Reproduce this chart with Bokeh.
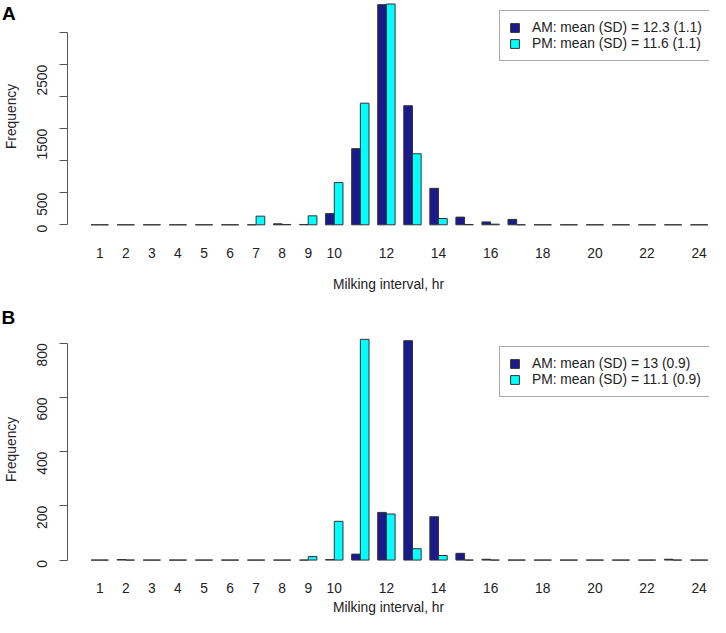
import math
from bokeh.plotting import figure
from bokeh.models import (ColumnDataSource, FixedTicker, Legend, LegendItem, Range1d,
                          Title, Div, GridBox)
from bokeh.embed import file_html
from bokeh.resources import INLINE

hours = list(range(1, 25))

am_a = [0, 0, 0, 0, 0, 0, 0, 15, 5, 175, 1190, 3440, 1860, 570, 120, 45, 85,
        0, 0, 0, 0, 0, 0, 0]
pm_a = [0, 0, 0, 0, 0, 0, 135, 5, 140, 660, 1900, 3450, 1110, 98, 5, 10, 0,
        0, 0, 0, 0, 0, 0, 0]

am_b = [0, 2, 0, 0, 0, 0, 0, 0, 0, 2, 22, 176, 810, 160, 25, 3, 0,
        0, 0, 0, 0, 0, 3, 0]
pm_b = [0, 0, 0, 0, 0, 0, 0, 0, 13, 143, 815, 170, 42, 17, 0, 0, 0,
        0, 0, 0, 0, 0, 0, 0]

label_a = ["AM: mean (SD) = 12.3 (1.1)", "PM: mean (SD) = 11.6 (1.1)"]
label_b = ["AM: mean (SD) = 13 (0.9)", "PM: mean (SD) = 11.1 (0.9)"]

x_ticks = [1, 2, 3, 4, 5, 6, 7, 8, 9, 10, 12, 14, 16, 18, 20, 22, 24]
y_ticks_a = [0, 500, 1000, 1500, 2000, 2500, 3000]
y_labels_a = {1000: "", 2000: "", 3000: ""}
y_ticks_b = [0, 200, 400, 600, 800]

AM_COLOR = "#1a1a8a"
PM_COLOR = "#00ffff"
EDGE = "#333333"
AXIS = "#555555"
FONT = "Liberation Sans"
FS = "13.8px"
BW = 1.0 / 3.0
LEFT = 66
PX_PER_HOUR = 26.1
X_START = 1 - (98.3 - LEFT) / PX_PER_HOUR
X_END = X_START + (709 - LEFT) / PX_PER_HOUR


def make_panel(am, pm, labels, yticks, ylabels, y_range, height,
               top_border, bottom_border, lab_standoff, title_standoff,
               legend_top, legend_w):
    src = ColumnDataSource(dict(
        x_am=[h - BW / 2 for h in hours], x_pm=[h + BW / 2 for h in hours],
        am=am, pm=pm))
    p = figure(width=710, height=height, output_backend="svg",
               toolbar_location=None,
               x_range=Range1d(X_START, X_END), y_range=Range1d(*y_range),
               min_border_left=LEFT, min_border_right=1,
               min_border_top=top_border, min_border_bottom=bottom_border)
    p.outline_line_color = None
    p.xgrid.visible = False
    p.ygrid.visible = False
    p.background_fill_color = "white"
    p.border_fill_color = "white"

    r_am = p.vbar(x="x_am", top="am", bottom=0, width=BW, source=src,
                  fill_color=AM_COLOR, line_color=EDGE, line_width=1)
    r_pm = p.vbar(x="x_pm", top="pm", bottom=0, width=BW, source=src,
                  fill_color=PM_COLOR, line_color=EDGE, line_width=1)

    xa = p.xaxis[0]
    xa.ticker = FixedTicker(ticks=x_ticks)
    xa.axis_line_color = None
    xa.major_tick_line_color = None
    xa.minor_tick_line_color = None
    xa.major_tick_out = 0
    xa.major_tick_in = 0
    xa.major_label_standoff = lab_standoff
    xa.major_label_text_font = FONT
    xa.major_label_text_font_size = FS
    xa.major_label_text_color = "#222222"
    xa.axis_label = "Milking interval, hr"
    xa.axis_label_text_font = FONT
    xa.axis_label_text_font_size = FS
    xa.axis_label_text_font_style = "normal"
    xa.axis_label_text_color = "#222222"
    xa.axis_label_standoff = title_standoff

    ya = p.yaxis[0]
    ya.ticker = FixedTicker(ticks=yticks)
    ya.bounds = (yticks[0], yticks[-1])
    ya.major_label_overrides = ylabels
    ya.axis_line_color = AXIS
    ya.major_tick_line_color = AXIS
    ya.minor_tick_line_color = None
    ya.major_tick_out = 8
    ya.major_tick_in = 0
    ya.major_label_orientation = math.pi / 2
    ya.major_label_standoff = 17
    ya.major_label_text_font = FONT
    ya.major_label_text_font_size = FS
    ya.major_label_text_color = "#222222"
    ya.axis_label = "Frequency"
    ya.axis_label_text_font = FONT
    ya.axis_label_text_font_size = FS
    ya.axis_label_text_font_style = "normal"
    ya.axis_label_text_color = "#222222"
    ya.axis_label_standoff = 11

    frame_h = height - top_border - bottom_border
    legend_h = 51
    legend = Legend(items=[LegendItem(label=labels[0], renderers=[r_am]),
                           LegendItem(label=labels[1], renderers=[r_pm])],
                    location=(709 - legend_w - LEFT,
                              frame_h - (legend_top - top_border) - legend_h),
                    glyph_width=11, glyph_height=11, label_height=11,
                    label_width=10, padding=9, spacing=1,
                    label_standoff=12,
                    label_text_font=FONT, label_text_font_size=FS,
                    label_text_color="#222222",
                    border_line_color="#555555", border_line_width=1,
                    background_fill_color="white", background_fill_alpha=1.0)
    p.add_layout(legend)
    return p


pa = make_panel(am_a, pm_a, label_a, y_ticks_a, y_labels_a,
                (-120.3, 3504.7), 300, 0, 68, 15, 16, 10, 211)
pb = make_panel(am_b, pm_b, label_b, y_ticks_b, {},
                (-31.1, 847.5), 317, 30, 47, 14, 4, 48, 211)

# panel letter B in the top border of panel B
pb.add_layout(Title(text="B", align="left", offset=-LEFT,
                    vertical_align="bottom", standoff=6,
                    text_font=FONT, text_font_size="19px",
                    text_font_style="bold", text_color="black"), "above")

# panel letter A overlaid on the top-left corner of panel A
div_a = Div(text="A", width=30, height=30,
            styles={"font-family": "Liberation Sans", "font-size": "19px",
                    "font-weight": "bold", "color": "black",
                    "padding": "0px", "position": "relative",
                    "left": "-3px", "top": "-2px",
                    "line-height": "normal"})

grid = GridBox(children=[(pa, 0, 0), (div_a, 0, 0), (pb, 1, 0)], spacing=0)
open("out.html", "w").write(file_html(grid, INLINE))
